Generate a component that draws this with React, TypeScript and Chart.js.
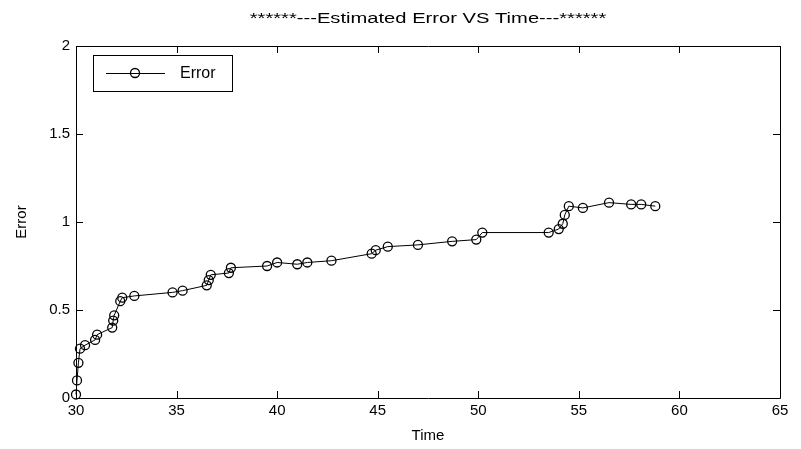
import React, { useEffect, useRef } from "react";
import { Chart, registerables } from "chart.js";

Chart.register(...registerables);

const titleText = "******---Estimated Error VS Time---******";
const seriesName = "Error";
const xLabel = "Time";
const yLabel = "Error";

const timeValues = [
  30.0, 30.05, 30.12, 30.2, 30.45, 30.95, 31.05, 31.8, 31.85, 31.9, 32.2, 32.3, 32.9, 34.8, 35.3,
  36.5, 36.6, 36.7, 37.6, 37.7, 39.5, 40.0, 41.0, 41.5, 42.7, 44.7, 44.9, 45.5, 47.0, 48.7,
  49.9, 50.2, 53.5, 54.0, 54.2, 54.3, 54.5, 55.2, 56.5, 57.6, 58.1, 58.8,
];
const errorValues = [
  0.02, 0.1, 0.2, 0.28, 0.3, 0.33, 0.36, 0.4, 0.44, 0.47, 0.55, 0.57, 0.58, 0.6, 0.61,
  0.64, 0.67, 0.7, 0.71, 0.74, 0.75, 0.77, 0.76, 0.77, 0.78, 0.82, 0.84, 0.86, 0.87, 0.89,
  0.9, 0.94, 0.94, 0.96, 0.99, 1.04, 1.09, 1.08, 1.11, 1.1, 1.1, 1.09,
];

const xTicks = [30, 35, 40, 45, 50, 55, 60, 65];
const yTicks = [0, 0.5, 1, 1.5, 2];

const FONT = "'Liberation Sans', Arial, sans-serif";

const framePlugin = {
  id: "matlabFrame",
  afterDraw(chart: any) {
    const { ctx, chartArea } = chart;
    const { left, right, top, bottom } = chartArea;
    const xs = chart.scales.x;
    const ys = chart.scales.y;
    const tl = 7;
    ctx.save();
    ctx.strokeStyle = "#000";
    ctx.lineWidth = 1;
    ctx.beginPath();
    ctx.rect(Math.round(left) + 0.5, Math.round(top) + 0.5, Math.round(right - left), Math.round(bottom - top));
    ctx.stroke();
    ctx.beginPath();
    xTicks.forEach((v) => {
      const px = Math.round(xs.getPixelForValue(v)) + 0.5;
      ctx.moveTo(px, bottom);
      ctx.lineTo(px, bottom - tl);
      ctx.moveTo(px, top);
      ctx.lineTo(px, top + tl);
    });
    yTicks.forEach((v) => {
      const py = Math.round(ys.getPixelForValue(v)) + 0.5;
      ctx.moveTo(left, py);
      ctx.lineTo(left + tl, py);
      ctx.moveTo(right, py);
      ctx.lineTo(right - tl, py);
    });
    ctx.stroke();

    // title (horizontally stretched like the reference)
    ctx.save();
    ctx.fillStyle = "#000";
    ctx.font = `14px ${FONT}`;
    ctx.textAlign = "center";
    ctx.textBaseline = "middle";
    ctx.translate((left + right) / 2, 19);
    ctx.scale(1.44, 1);
    ctx.fillText(titleText, 0, 0);
    ctx.restore();

    // legend
    const lx = 93, ly = 55, lw = 139, lh = 36;
    ctx.fillStyle = "#fff";
    ctx.fillRect(lx, ly, lw, lh);
    ctx.strokeStyle = "#000";
    ctx.lineWidth = 1;
    ctx.strokeRect(lx + 0.5, ly + 0.5, lw, lh);
    const cy = ly + lh / 2;
    ctx.beginPath();
    ctx.moveTo(106, cy + 0.5);
    ctx.lineTo(165, cy + 0.5);
    ctx.stroke();
    ctx.beginPath();
    ctx.arc(135, cy, 4.5, 0, Math.PI * 2);
    ctx.lineWidth = 1.3;
    ctx.stroke();
    ctx.fillStyle = "#000";
    ctx.textAlign = "left";
    ctx.textBaseline = "middle";
    ctx.font = `16px ${FONT}`;
    ctx.fillText(seriesName, 180, cy + 1);
    ctx.restore();
  },
};

export default function App() {
  const ref = useRef<HTMLCanvasElement | null>(null);
  useEffect(() => {
    document.body.style.margin = "0";
    if (!ref.current) return;
    const chart = new Chart(ref.current, {
      type: "line",
      data: {
        datasets: [
          {
            label: seriesName,
            data: timeValues.map((t, i) => ({ x: t, y: errorValues[i] })),
            borderColor: "#000",
            borderWidth: 1,
            pointRadius: 4.5,
            pointBorderWidth: 1.3,
            pointBorderColor: "#000",
            pointBackgroundColor: "rgba(0,0,0,0)",
            tension: 0,
            clip: false as any,
          },
        ],
      },
      options: {
        animation: false,
        responsive: false,
        layout: { padding: { top: 46, right: 21, left: 0, bottom: 0 } },
        plugins: {
          legend: { display: false },
          title: { display: false },
          tooltip: { enabled: false },
        },
        scales: {
          x: {
            type: "linear",
            min: 30,
            max: 65,
            afterFit: (s: any) => {
              s.height = 51;
            },
            afterBuildTicks: (s: any) => {
              s.ticks = xTicks.map((v) => ({ value: v }));
            },
            ticks: {
              color: "#000",
              font: { size: 15, family: FONT },
              padding: 4,
              maxRotation: 0,
              callback: (v: any) => String(v),
            },
            grid: { display: false, drawTicks: false },
            border: { display: false },
            title: { display: true, text: xLabel, color: "#000", font: { size: 15, family: FONT }, padding: { top: 0, bottom: 4 } },
          },
          y: {
            type: "linear",
            min: 0,
            max: 2,
            afterFit: (s: any) => {
              s.width = 76;
            },
            afterBuildTicks: (s: any) => {
              s.ticks = yTicks.map((v) => ({ value: v }));
            },
            ticks: { color: "#000", font: { size: 15, family: FONT }, padding: 6, callback: (v: any) => String(v) },
            grid: { display: false, drawTicks: false },
            border: { display: false },
            title: { display: true, text: yLabel, color: "#000", font: { size: 15, family: FONT }, padding: { top: 13, bottom: 0 } },
          },
        },
      },
      plugins: [framePlugin],
    });
    return () => chart.destroy();
  }, []);
  return (
    <div style={{ width: 801, height: 449 }}>
      <canvas ref={ref} width={801} height={449} style={{ display: "block" }} />
    </div>
  );
}
